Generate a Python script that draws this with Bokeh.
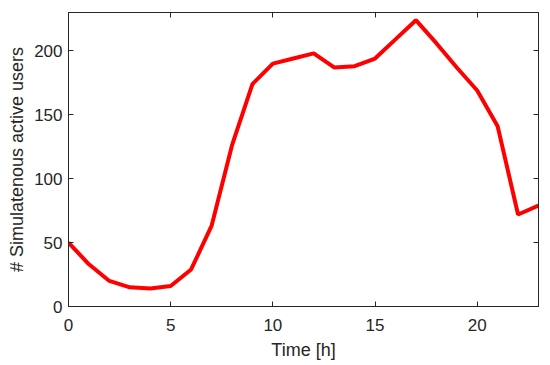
from bokeh.plotting import figure
from bokeh.models import LinearAxis, Range1d, FixedTicker
from bokeh.embed import file_html
from bokeh.resources import INLINE

hours = list(range(24))
users = [50, 33, 20, 15, 14, 16, 29, 63, 126, 174, 190, 194, 198, 187, 188, 194,
         209, 224, 206, 187, 169, 141, 72, 79]
x_ticks = [0, 5, 10, 15, 20]
y_ticks = [0, 50, 100, 150, 200]

FONT = "Liberation Sans"
AX = "#262626"

p = figure(width=550, height=365, output_backend="svg", toolbar_location=None,
           x_range=Range1d(0, 23), y_range=Range1d(0, 230),
           min_border_left=68, min_border_right=12, min_border_top=12, min_border_bottom=59,
           x_axis_label="Time [h]", y_axis_label="# Simulatenous active users")
p.grid.visible = False
p.outline_line_color = AX
p.outline_line_width = 1

p.line(hours, users, line_color="#ff0000", line_width=4)

for ax, ticks in ((p.xaxis[0], x_ticks), (p.yaxis[0], y_ticks)):
    ax.ticker = FixedTicker(ticks=ticks)
    ax.major_tick_in = 5
    ax.major_tick_out = 0
    ax.minor_tick_line_color = None
    ax.axis_line_color = AX
    ax.major_tick_line_color = AX
    ax.major_label_text_font = FONT
    ax.major_label_text_font_size = "17px"
    ax.major_label_text_color = AX
    ax.axis_label_text_font = FONT
    ax.axis_label_text_font_size = "18px"
    ax.axis_label_text_font_style = "normal"
    ax.axis_label_text_color = AX

p.xaxis[0].major_label_standoff = 12
p.yaxis[0].major_label_standoff = 6
p.xaxis[0].axis_label_standoff = 6
p.yaxis[0].axis_label_standoff = 4

top = LinearAxis(ticker=FixedTicker(ticks=x_ticks), major_label_text_font_size="0px",
                 major_tick_in=5, major_tick_out=0, minor_tick_line_color=None,
                 axis_line_color=AX, major_tick_line_color=AX, major_label_standoff=0)
right = LinearAxis(ticker=FixedTicker(ticks=y_ticks), major_label_text_font_size="0px",
                   major_tick_in=5, major_tick_out=0, minor_tick_line_color=None,
                   axis_line_color=AX, major_tick_line_color=AX, major_label_standoff=0)
top.major_label_text_color = None
right.major_label_text_color = None
p.add_layout(top, "above")
p.add_layout(right, "right")

open("out.html", "w").write(file_html(p, INLINE))
